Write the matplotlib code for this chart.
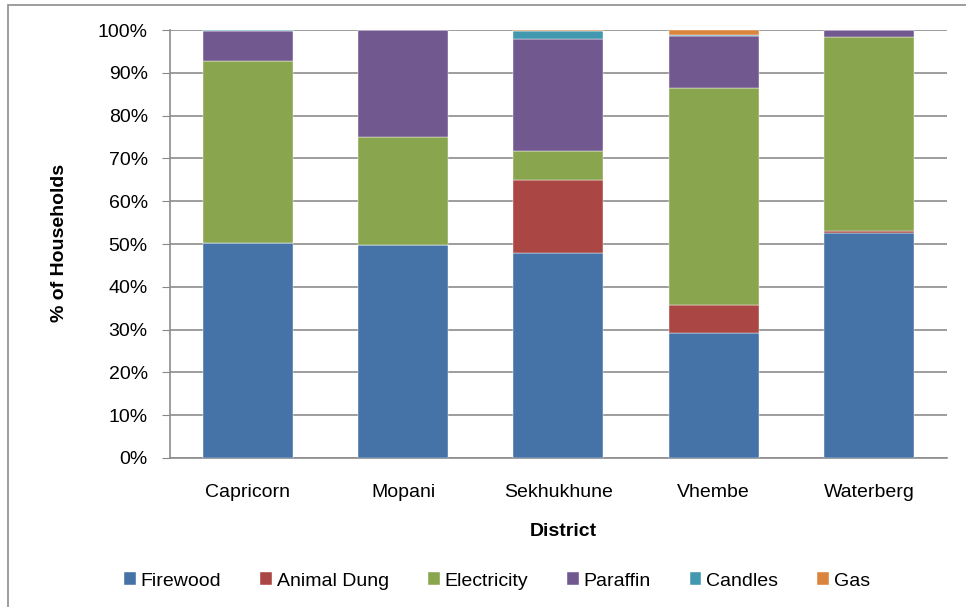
import numpy as np
import matplotlib.pyplot as plt
from matplotlib.patches import Rectangle

plt.rcParams['font.family'] = ['Liberation Sans', 'DejaVu Sans']

# data (% of households by energy source)
districts = ['Capricorn', 'Mopani', 'Sekhukhune', 'Vhembe', 'Waterberg']
firewood = [50.2, 49.8, 47.9, 29.3, 52.6]
animal_dung = [0.0, 0.0, 17.1, 6.4, 0.4]
electricity = [42.6, 25.2, 6.7, 50.7, 45.4]
paraffin = [7.0, 24.9, 26.2, 12.3, 1.5]
candles = [0.2, 0.1, 1.9, 0.1, 0.05]
gas = [0.0, 0.0, 0.2, 1.2, 0.05]

series = [('Firewood', firewood, '#4572A7'),
          ('Animal Dung', animal_dung, '#AA4643'),
          ('Electricity', electricity, '#89A54E'),
          ('Paraffin', paraffin, '#71588F'),
          ('Candles', candles, '#4198AF'),
          ('Gas', gas, '#DB843D')]

fs = 14

fig = plt.figure(figsize=(9.66, 6.07), dpi=100)
ax = fig.add_axes([0.176, 0.2455, 0.804, 0.705])

# outer chart frame
fig.patches.append(Rectangle((8 / 966, -0.1), 1.2, 1 - 5 / 607 + 0.1,
                             transform=fig.transFigure, fill=False,
                             edgecolor='#8c8c8c', linewidth=1.2))

x = np.arange(len(districts))
bottom = np.zeros(len(districts))
for name, vals, col in series:
    vals = np.array(vals)
    ax.bar(x, vals, 0.58, bottom=bottom, color=col, label=name,
           edgecolor='white', linewidth=0.3, zorder=3)
    bottom += vals

ax.set_xlim(-0.5, len(districts) - 0.5)
ax.set_ylim(0, 100)
ax.set_yticks(np.arange(0, 101, 10))
ax.set_yticklabels([f'{v}%' for v in range(0, 101, 10)], fontsize=fs)
ax.set_xticks(x)
ax.set_xticklabels(districts, fontsize=fs)
ax.tick_params(axis='x', length=0, pad=19)
ax.tick_params(axis='y', length=6, color='#888888', pad=10, direction='out')
ax.grid(axis='y', color='#8c8c8c', linewidth=1.2, zorder=0)
for s in ['top', 'right']:
    ax.spines[s].set_visible(False)
for s in ['left', 'bottom']:
    ax.spines[s].set_color('#8c8c8c')
    ax.spines[s].set_linewidth(1.2)

fig.text(60 / 966, 1 - 243 / 607, '% of Households', rotation=90,
         ha='center', va='center', fontsize=fs, fontweight='bold')
fig.text(563 / 966, 1 - 531 / 607, 'District', ha='center', va='center',
         fontsize=fs, fontweight='bold')

fig.legend(loc='center', bbox_to_anchor=(497 / 966, 1 - 581 / 607), ncol=6,
           frameon=False, fontsize=fs, handlelength=0.6, handleheight=0.6,
           handletextpad=0.25, columnspacing=2.0)

fig.savefig('out.png', dpi=100)
